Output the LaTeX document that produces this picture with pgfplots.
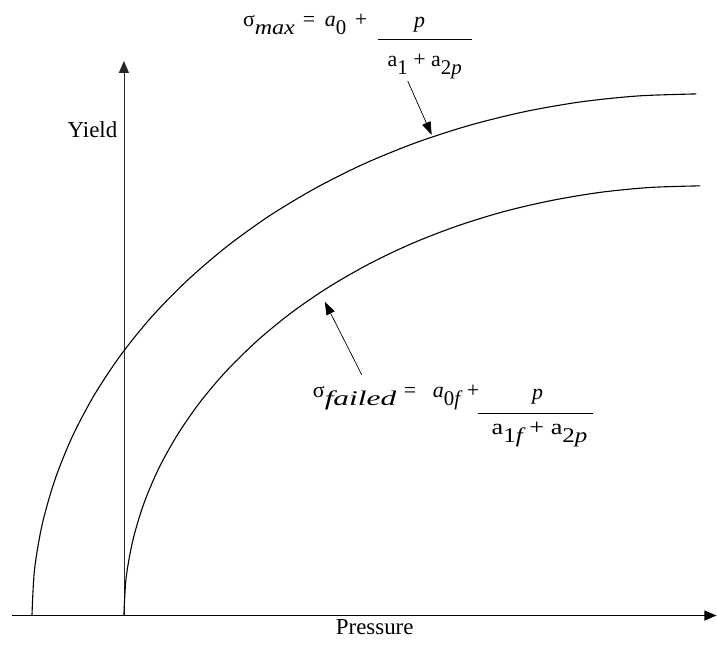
\documentclass[border=0pt]{standalone}
\usepackage{pgfplots}
\pgfplotsset{compat=1.18}
\usetikzlibrary{arrows.meta}
\usepackage{fontspec}
\setmainfont{Liberation Serif}
\newcommand{\fa}{\fontsize{22}{24}\selectfont}
\newcommand{\fl}{\fontsize{23}{25}\selectfont}
\newcommand{\sub}[1]{\raisebox{-8bp}{\fontsize{21}{23}\selectfont #1}}
\begin{document}
\begin{tikzpicture}
\begin{axis}[
  x=1bp, y=1bp,
  xmin=-112, xmax=593, ymin=0, ymax=555,
  axis lines=middle,
  x axis line style={line width=1.1bp, -{Triangle[length=12bp,width=10bp]}},
  y axis line style={line width=0.8bp, draw=black!85, -{Triangle[length=12bp,width=10bp]}},
  xtick=\empty, ytick=\empty,
  clip=false,
]
% upper curve (sigma max)
\addplot[black, line width=1.1bp, smooth] coordinates {
 (-92,0) (-89.5,45.5) (-81.9,90.6) (-69.3,135.1) (-51.9,178.5) (-29.7,220.6)
 (-2.9,261) (28.2,299.4) (63.6,335.5) (102.8,369.1) (145.5,399.9) (191.6,427.6)
 (240.5,452.1) (292,473.1) (345.6,490.5) (400.9,504.2) (457.6,514.1) (515,520) (573,522)
};
% lower curve (sigma failed)
\addplot[black, line width=1.1bp, smooth] coordinates {
 (0,0) (2.2,37.5) (8.8,74.6) (19.7,111.3) (34.8,147.1) (54.1,181.7) (77.3,215)
 (104.3,246.6) (135,276.4) (169,304.1) (206.1,329.4) (246,352.2) (288.5,372.4)
 (333.2,389.7) (379.7,404.1) (427.7,415.3) (476.8,423.5) (526.7,428.4) (577,430)
};
% arrows
\draw[line width=0.7bp, -{Triangle[length=13bp,width=9bp]}] (axis cs:284,535) -- (axis cs:308,481);
\draw[line width=0.7bp, -{Triangle[length=13bp,width=9bp]}] (axis cs:238,241) -- (axis cs:201,314);
% axis labels
\node[anchor=base, font=\fl, inner sep=0pt] at (axis cs:-31.5,478) {Yield};
\node[anchor=base, font=\fl, inner sep=0pt] at (axis cs:251,-19) {Pressure};
% top formula
\node[anchor=base west, font=\fa, inner sep=0pt] at (axis cs:119,589) {σ\sub{\scalebox{1.15}[1]{\itshape max}}};
\node[anchor=base west, font=\fa, inner sep=0pt] at (axis cs:179,589) {=};
\node[anchor=base west, font=\fa, inner sep=0pt] at (axis cs:201,589) {{\itshape a}\sub{0}};
\node[anchor=base west, font=\fa, inner sep=0pt] at (axis cs:231,589) {+};
\draw[line width=0.8bp] (axis cs:254,577) -- (axis cs:348,577);
\node[anchor=base, font=\fa, inner sep=0pt] at (axis cs:296,588) {\itshape p};
\node[anchor=base, font=\fa, inner sep=0pt] at (axis cs:301,549)
  {a\sub{1} + a\sub{2\itshape p}};
% bottom formula
\node[anchor=base west, font=\fa, inner sep=0pt] at (axis cs:189,218) {σ\sub{\scalebox{1.5}[1]{\itshape failed}}};
\node[anchor=base west, font=\fa, inner sep=0pt] at (axis cs:280,218) {=};
\node[anchor=base west, font=\fa, inner sep=0pt] at (axis cs:309,218) {{\itshape a}\sub{0\itshape f}};
\node[anchor=base west, font=\fa, inner sep=0pt] at (axis cs:343,218) {+};
\draw[line width=0.8bp] (axis cs:354,202) -- (axis cs:469,202);
\node[anchor=base, font=\fa, inner sep=0pt] at (axis cs:414,216) {\itshape p};
\node[anchor=base, font=\fa, inner sep=0pt] at (axis cs:416,181)
  {\scalebox{1.2}[1]{a\sub{1\itshape f} + a\sub{2\itshape p}}};
% bounding box of the whole picture
\path (axis cs:-124,-31) rectangle (axis cs:593,616);
\end{axis}
\end{tikzpicture}
\end{document}
